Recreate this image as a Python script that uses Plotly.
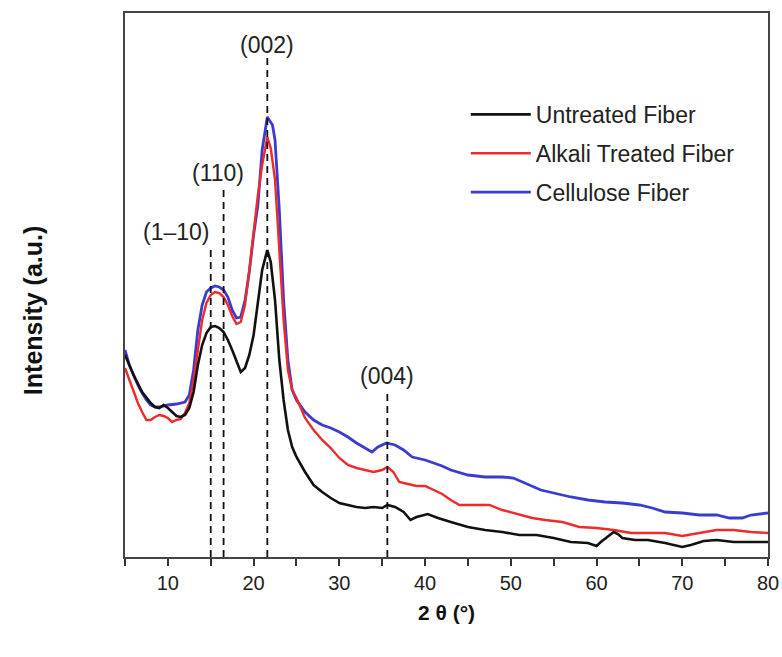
import plotly.graph_objects as go

# 2θ positions (degrees) and intensities (a.u.)
untreated_x = [5, 6, 7, 8, 8.5, 9, 9.5, 10, 10.5, 11, 11.5, 12, 12.5, 13, 13.5, 14, 14.5, 15, 15.5, 16, 16.5, 17, 17.5, 18, 18.5, 19, 19.5, 20, 20.5, 21, 21.6, 22, 22.5, 23, 23.5, 24, 24.5, 25, 26, 27, 28, 29, 30, 31, 32, 33, 34, 35, 35.6, 36.5, 37.5, 38.3, 39, 40.3, 41.5, 43, 45, 47, 49, 51, 53, 55, 57, 59, 60, 60.5, 61.5, 62, 62.5, 63, 64.5, 66, 68, 70, 71, 72.5, 74, 76, 78, 80]
untreated_y = [202, 182, 165, 154, 150, 149, 152, 149, 145, 141, 140, 142, 149, 165, 192, 212, 224, 230, 231, 229, 225, 217, 207, 195, 185, 189, 202, 222, 257, 287, 307, 295, 257, 197, 157, 127, 110, 100, 85, 72, 65, 59, 54, 52, 50, 49, 50, 49, 52, 50, 45, 37, 40, 43, 39, 35, 30, 27, 25, 22, 22, 19, 15, 14, 11, 15, 22, 25, 23, 19, 17, 17, 14, 10, 12, 16, 17, 15, 15, 15]

alkali_x = [5, 5.5, 6, 6.5, 7, 7.5, 8, 8.5, 9, 9.5, 10, 10.5, 11, 11.5, 12, 12.5, 13, 13.5, 14, 14.5, 15, 15.5, 16, 16.5, 17, 17.5, 18, 18.5, 19, 19.5, 20, 20.5, 21, 21.6, 22, 22.5, 23, 23.5, 24, 24.5, 25, 26, 27, 28, 29, 30, 31, 32, 33, 34, 35, 35.6, 36.3, 37, 38, 39, 40, 41, 42, 43, 44, 46, 47.5, 49, 51, 52.5, 54, 56, 58, 60, 62, 64, 66, 68, 70, 72, 74, 76, 78, 80]
alkali_y = [189, 177, 165, 154, 145, 137, 137, 140, 142, 141, 139, 135, 137, 138, 144, 154, 177, 207, 237, 254, 262, 265, 264, 260, 252, 241, 233, 235, 252, 287, 327, 362, 392, 420, 409, 377, 307, 237, 187, 167, 159, 139, 127, 117, 109, 99, 92, 89, 87, 85, 87, 90, 85, 75, 73, 71, 71, 67, 63, 57, 52, 52, 52, 47, 42, 39, 37, 35, 30, 29, 27, 24, 24, 24, 21, 24, 27, 27, 25, 24]

cellulose_x = [5, 5.5, 6, 6.5, 7, 7.5, 8, 8.5, 9, 10, 11, 12, 12.5, 13, 13.5, 14, 14.5, 15, 15.5, 16, 16.5, 17, 17.5, 18, 18.5, 19, 19.5, 20, 20.5, 21, 21.6, 22.2, 22.5, 23, 23.5, 24, 24.5, 25, 26, 27, 28, 29, 30, 31, 32, 33, 33.8, 34.5, 35.5, 36.5, 37.5, 38.5, 40, 41, 42, 43, 45, 47, 49, 50.3, 52, 53.5, 55, 57, 59, 61, 63, 65, 66.5, 68, 70, 72, 74, 75.5, 77, 78, 80]
cellulose_y = [207, 192, 182, 172, 164, 157, 152, 150, 150, 152, 153, 155, 162, 187, 227, 252, 265, 269, 271, 270, 267, 260, 247, 239, 240, 257, 285, 322, 352, 407, 440, 432, 417, 347, 257, 197, 167, 157, 145, 137, 132, 129, 125, 120, 114, 109, 105, 110, 114, 112, 107, 100, 97, 94, 91, 87, 82, 80, 80, 79, 73, 67, 64, 60, 57, 55, 54, 52, 49, 45, 44, 42, 42, 39, 39, 42, 44]

series_names = ["Untreated Fiber", "Alkali Treated Fiber", "Cellulose Fiber"]

# Reflection markers: label, 2θ position, top of dashed line, label anchor
peak_labels = ["(1–10)", "(110)", "(002)", "(004)"]
peak_pos = [15.0, 16.5, 21.6, 35.6]
peak_line_top = [307, 369, 499, 165]
peak_label_x = [11.0, 15.9, 21.6, 35.6]
peak_label_y = [325, 384, 512, 181]

x_ticks = [10, 20, 30, 40, 50, 60, 70, 80]

FONT = "Liberation Sans, Arial, sans-serif"

fig = go.Figure()
styles = [("#111111", 2.6), ("#ee2a2a", 2.4), ("#3b3bd0", 2.8)]
data = [(untreated_x, untreated_y), (alkali_x, alkali_y), (cellulose_x, cellulose_y)]
for i in [2, 1, 0]:
    xs, ys = data[i]
    col, w = styles[i]
    fig.add_trace(go.Scatter(
        x=xs, y=ys, mode="lines", name=series_names[i],
        line=dict(color=col, width=w),
        legendrank=i + 1, legendgroup=f"g{i}",
    ))

for p, top in zip(peak_pos, peak_line_top):
    fig.add_shape(type="line", xref="x", yref="y", x0=p, x1=p, y0=0, y1=top,
                  line=dict(color="#111111", width=1.8, dash="7px,5px"), layer="above")

for lab, lx, ly in zip(peak_labels, peak_label_x, peak_label_y):
    fig.add_annotation(x=lx, y=ly, xref="x", yref="y", text=lab, showarrow=False,
                       font=dict(family=FONT, size=23, color="#222222"),
                       xanchor="center", yanchor="middle")

# y-axis title placed slightly below the axis centre, as in the original
fig.add_annotation(x=-0.143, y=0.452, xref="paper", yref="paper",
                   text="<b>Intensity (a.u.)</b>", textangle=-90, showarrow=False,
                   font=dict(family=FONT, size=25, color="#111111"),
                   xanchor="center", yanchor="middle")

fig.update_layout(
    width=782, height=657,
    margin=dict(l=125, r=14, t=13, b=100, autoexpand=False),
    paper_bgcolor="white", plot_bgcolor="white",
    showlegend=True,
    legend=dict(x=0.53, y=0.853, xanchor="left", yanchor="top",
                font=dict(family=FONT, size=23, color="#222222"),
                bgcolor="rgba(0,0,0,0)", tracegroupgap=6, itemwidth=60,
                traceorder="grouped"),
    font=dict(family=FONT, color="#222222"),
)
fig.update_xaxes(
    range=[5, 80], tickvals=x_ticks, ticks="outside", ticklen=7, tickwidth=1.5,
    tickcolor="#333333", tickfont=dict(family=FONT, size=20, color="#222222"),
    minor=dict(dtick=5, tick0=5, ticks="outside", ticklen=7, tickwidth=1.5, tickcolor="#333333"),
    showline=True, linecolor="#444444", linewidth=2, mirror=True, showgrid=False, zeroline=False,
    automargin=False,
    title=dict(text="<b>2 θ (°)</b>", font=dict(family=FONT, size=21, color="#111111"), standoff=12),
)
fig.update_yaxes(
    range=[0, 544], showticklabels=False, ticks="",
    showline=True, linecolor="#444444", linewidth=2, mirror=True, showgrid=False, zeroline=False,
    automargin=False,
)

fig.write_html("out.html")
